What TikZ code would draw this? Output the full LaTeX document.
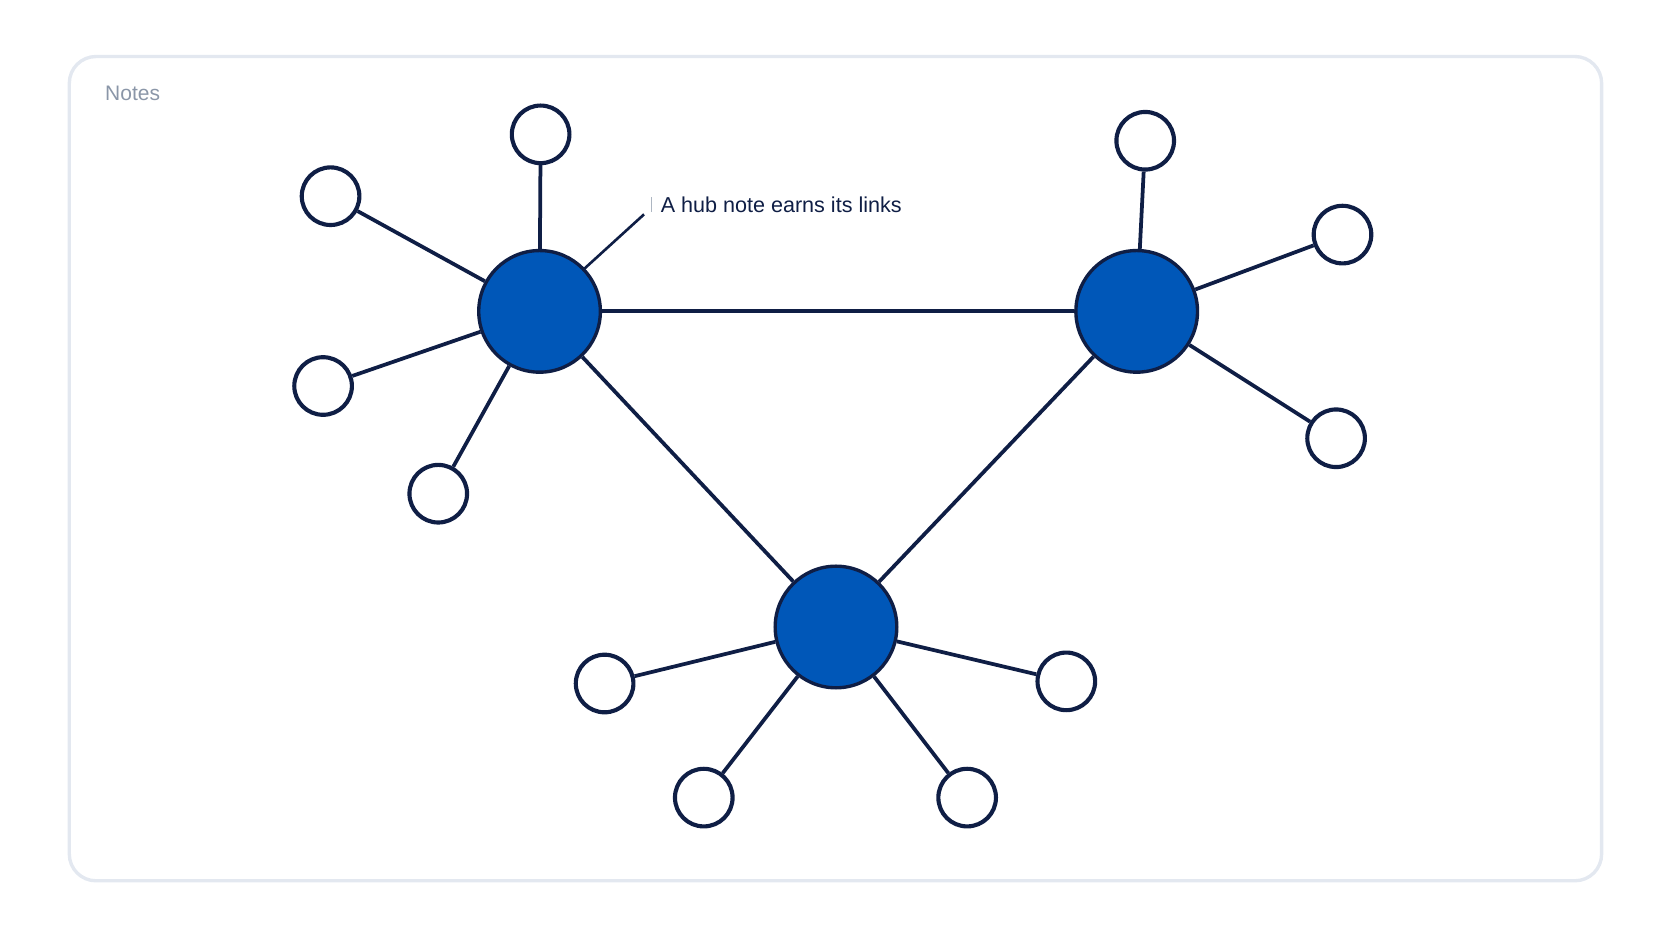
\documentclass[tikz,border=0pt]{standalone}
\usepackage{fontspec}
\setmainfont{Liberation Sans}
\begin{document}
\begin{tikzpicture}[x=0.01cm,y=-0.01cm,
  hub/.style={circle,draw=navy,line width=0.9pt,fill=hubblue,minimum size=1.14cm,inner sep=0},
  leaf/.style={circle,draw=navy,line width=1.1pt,fill=white,minimum size=0.54cm,inner sep=0},
  link/.style={draw=navy,line width=1pt}]
\definecolor{navy}{HTML}{0F1E45}
\definecolor{hubblue}{HTML}{0057B8}
\definecolor{framec}{HTML}{E3E8F0}
\definecolor{notec}{HTML}{8A96A8}
\useasboundingbox (0,0) rectangle (1568,882);
\draw[framec,line width=0.9pt,rounded corners=0.25cm] (65,53) rectangle (1502,826);
\node[anchor=west,text=notec,font=\fontsize{5.6pt}{6pt}\selectfont,inner sep=0] (notes) at (98,88) {Notes};
\node[hub] (A) at (506,292) {};
\node[hub] (B) at (1066,292) {};
\node[hub] (C) at (784,588) {};
\foreach \n/\x/\y in {a1/507/126,a2/310/184,a3/303/362,a4/411/463,b1/1074/132,b2/1259/220,b3/1253/411,c1/567/641,c2/660/748,c3/907/748,c4/1000/639}
  \node[leaf] (\n) at (\x,\y) {};
\foreach \h/\l in {A/a1,A/a2,A/a3,A/a4,B/b1,B/b2,B/b3,C/c1,C/c2,C/c3,C/c4,A/B,A/C,B/C}
  \draw[link] (\h) -- (\l);
\coordinate (p1) at (548,252);
\coordinate (p2) at (604,201);
\draw[navy,line width=0.7pt] (p1) -- (p2);
\coordinate (q1) at (611,185);
\coordinate (q2) at (611,199);
\draw[notec!70,line width=0.5pt] (q1) -- (q2);
\node[anchor=west,text=navy,font=\fontsize{5.75pt}{7pt}\selectfont,inner sep=0] (lab) at (619,192) {A hub note earns its links};
\end{tikzpicture}
\end{document}
